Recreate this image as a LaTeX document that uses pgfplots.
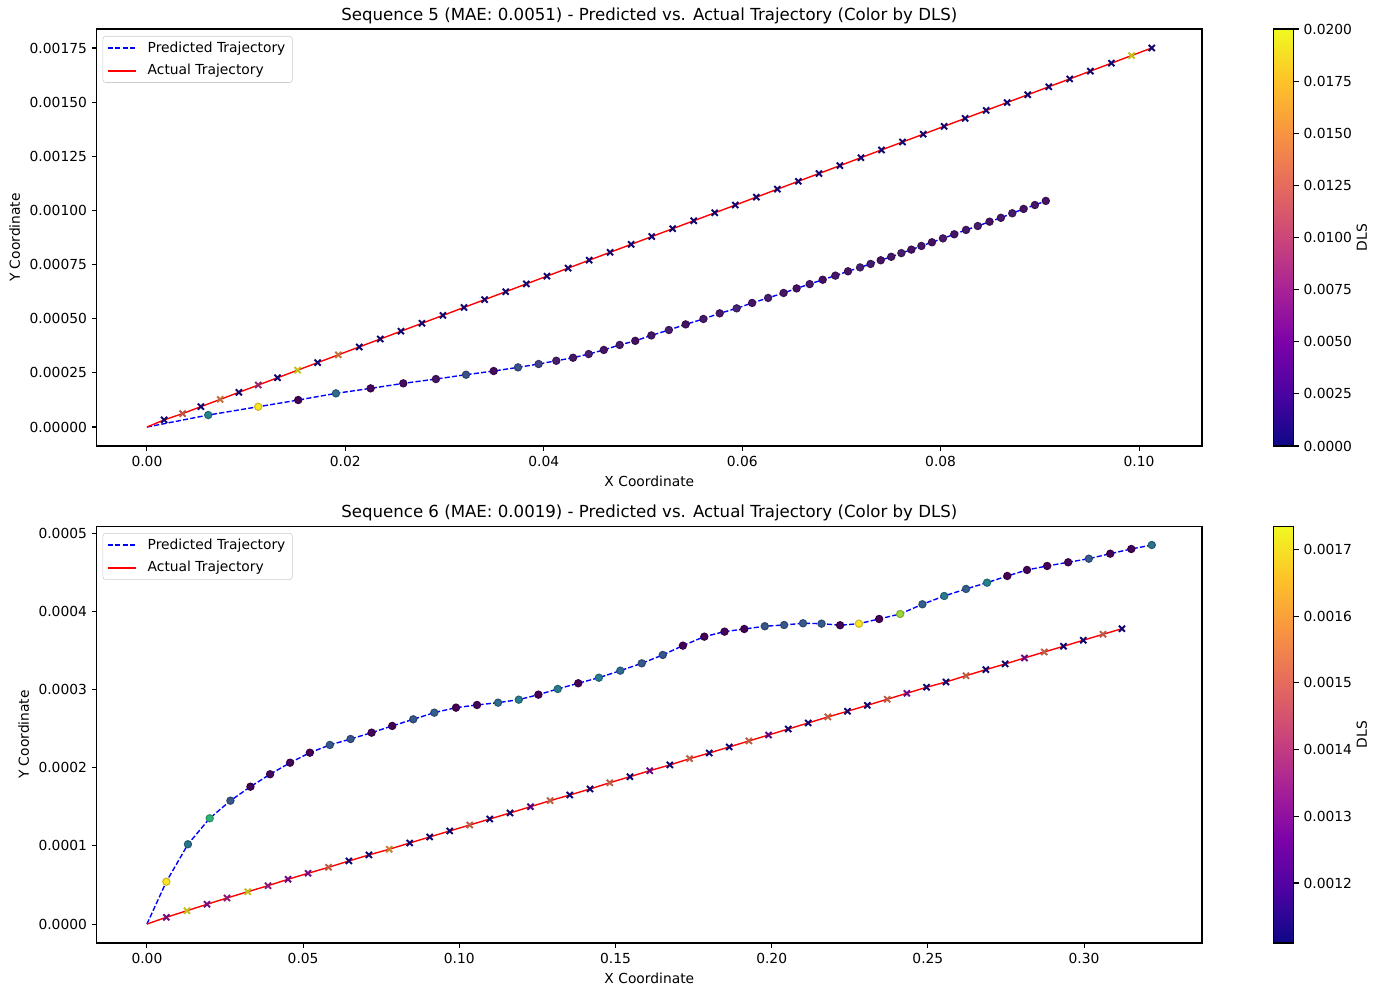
\documentclass[border=0pt]{standalone}
\usepackage{fontspec}
\setmainfont{DejaVu Sans}
\usepackage{pgfplots}
\usepackage{pgfplotstable}
\pgfplotsset{compat=1.18}

\pgfplotsset{
  colormap={viridiscm}{rgb255=(68,1,84) rgb255=(72,40,120) rgb255=(62,74,137) rgb255=(49,104,142) rgb255=(38,130,142) rgb255=(31,158,137) rgb255=(53,183,121) rgb255=(110,206,88) rgb255=(181,222,43) rgb255=(253,231,37)},
  colormap={plasmacm}{rgb255=(13,8,135) rgb255=(75,3,161) rgb255=(125,3,168) rgb255=(168,34,150) rgb255=(203,70,121) rgb255=(229,107,93) rgb255=(248,148,65) rgb255=(253,195,40) rgb255=(240,249,33)},
}

% Sequence 5: x, y, colour value
\pgfplotstableread{
x y c
0 0 0
0.00618 0.0000554 0.0090
0.01122 0.0000937 0.0200
0.01525 0.0001247 0.0000
0.01905 0.0001555 0.0070
0.02255 0.0001786 0.0004
0.02584 0.0002017 0.0006
0.02913 0.0002216 0.0010
0.03216 0.0002416 0.0050
0.03495 0.0002586 0.0006
0.03740 0.0002755 0.0050
0.03948 0.0002909 0.0040
0.04126 0.000306 0.0016
0.04295 0.000320 0.0012
0.04453 0.000337 0.0018
0.04605 0.000356 0.0010
0.04765 0.000379 0.0014
0.04922 0.000398 0.0008
0.05084 0.000423 0.0012
0.05261 0.000448 0.0016
0.05430 0.000474 0.0010
0.05609 0.000499 0.0014
0.05773 0.000525 0.0012
0.05944 0.000548 0.0020
0.06100 0.000573 0.0010
0.06261 0.000596 0.0016
0.06417 0.000619 0.0012
0.06548 0.000640 0.0010
0.06680 0.000660 0.0014
0.06811 0.000680 0.0008
0.06939 0.000699 0.0012
0.07066 0.000719 0.0010
0.07188 0.000737 0.0018
0.07294 0.000753 0.0014
0.07396 0.000770 0.0010
0.07502 0.000786 0.0012
0.07604 0.000803 0.0016
0.07705 0.000819 0.0010
0.07806 0.000836 0.0012
0.07912 0.000853 0.0008
0.08023 0.000871 0.0014
0.08137 0.000890 0.0010
0.08256 0.000910 0.0012
0.08374 0.000928 0.0016
0.08493 0.000948 0.0010
0.08607 0.000966 0.0012
0.08722 0.000987 0.0014
0.08836 0.001007 0.0010
0.08950 0.001025 0.0012
0.09060 0.001044 0.0010
}\predA

\pgfplotstableread{
x y c
0 0 0
0.00174 0.0000330 0.0004
0.00360 0.0000622 0.0125
0.00544 0.0000940 0.0004
0.00739 0.0001277 0.0145
0.00927 0.0001602 0.0004
0.01122 0.0001939 0.0085
0.01317 0.0002276 0.0004
0.01519 0.0002625 0.0195
0.01721 0.0002974 0.0004
0.01929 0.0003333 0.0145
0.02140 0.0003698 0.0004
0.02352 0.0004064 0.0004
0.02560 0.0004424 0.0004
0.02772 0.0004790 0.0004
0.02984 0.0005156 0.0004
0.03196 0.0005523 0.0004
0.03404 0.0005882 0.0004
0.03616 0.0006248 0.0004
0.03824 0.0006608 0.0004
0.04032 0.0006967 0.0004
0.04245 0.0007335 0.0004
0.04457 0.0007702 0.0004
0.04668 0.0008066 0.0004
0.04880 0.0008433 0.0004
0.05088 0.0008792 0.0004
0.05299 0.0009157 0.0004
0.05511 0.0009523 0.0004
0.05723 0.0009889 0.0004
0.05930 0.0010247 0.0004
0.06142 0.0010613 0.0004
0.06354 0.0010980 0.0004
0.06566 0.0011346 0.0004
0.06773 0.0011704 0.0004
0.06985 0.0012070 0.0004
0.07197 0.0012436 0.0004
0.07404 0.0012794 0.0004
0.07616 0.0013160 0.0004
0.07824 0.0013520 0.0004
0.08035 0.0013884 0.0004
0.08247 0.0014251 0.0004
0.08459 0.0014617 0.0004
0.08670 0.0014982 0.0004
0.08878 0.0015341 0.0004
0.09090 0.0015708 0.0004
0.09301 0.0016072 0.0004
0.09509 0.0016432 0.0004
0.09721 0.0016798 0.0004
0.09924 0.0017149 0.0195
0.10128 0.0017501 0.0004
}\actA

% Sequence 6
\pgfplotstableread{
x y c
0 0 0.00111
0.00622 0.0000542 0.001735
0.01314 0.0001021 0.001348
0.02010 0.0001353 0.001516
0.02673 0.0001578 0.001279
0.03314 0.0001757 0.001110
0.03942 0.0001916 0.001123
0.04583 0.0002064 0.001116
0.05215 0.0002192 0.001110
0.05856 0.0002291 0.001285
0.06519 0.0002367 0.001273
0.07192 0.0002448 0.001116
0.07853 0.0002534 0.001110
0.08526 0.0002619 0.001279
0.09199 0.0002704 0.001298
0.09894 0.0002768 0.001110
0.10567 0.0002802 0.001116
0.11240 0.0002832 0.001329
0.11904 0.0002870 0.001373
0.12532 0.0002934 0.001110
0.13151 0.0003007 0.001373
0.13808 0.0003080 0.001110
0.14468 0.0003151 0.001373
0.15154 0.0003241 0.001329
0.15840 0.0003335 0.001279
0.16513 0.0003442 0.001279
0.17157 0.0003561 0.001110
0.17843 0.0003676 0.001110
0.18490 0.0003740 0.001116
0.19122 0.0003774 0.001110
0.19779 0.0003809 0.001279
0.20397 0.0003825 0.001279
0.21003 0.0003847 0.001285
0.21596 0.0003842 0.001285
0.22189 0.0003822 0.001110
0.22792 0.0003842 0.001735
0.23439 0.0003902 0.001110
0.24112 0.0003966 0.001641
0.24824 0.0004090 0.001298
0.25522 0.0004196 0.001373
0.26221 0.0004286 0.001298
0.26894 0.0004366 0.001391
0.27542 0.0004452 0.001110
0.28173 0.0004529 0.001116
0.28817 0.0004580 0.001110
0.29490 0.0004627 0.001116
0.30151 0.0004673 0.001285
0.30837 0.0004737 0.001110
0.31510 0.0004797 0.001116
0.32167 0.0004848 0.001348
}\predB

\pgfplotstableread{
x y c
0 0 0.00112
0.00622 0.0000087 0.00130
0.01282 0.0000171 0.00172
0.01923 0.0000253 0.00130
0.02564 0.0000334 0.00135
0.03228 0.0000414 0.00172
0.03878 0.0000491 0.00135
0.04519 0.0000573 0.00128
0.05160 0.0000650 0.00130
0.05814 0.0000726 0.00152
0.06465 0.0000807 0.00112
0.07106 0.0000884 0.00112
0.07756 0.0000957 0.00160
0.08410 0.0001037 0.00112
0.09051 0.0001114 0.00112
0.09692 0.0001191 0.00112
0.10333 0.0001267 0.00152
0.10974 0.0001344 0.00112
0.11625 0.0001421 0.00112
0.12276 0.0001501 0.00122
0.12907 0.0001578 0.00152
0.13538 0.0001651 0.00112
0.14186 0.0001728 0.00112
0.14817 0.0001808 0.00152
0.15462 0.0001885 0.00112
0.16096 0.0001962 0.00128
0.16740 0.0002035 0.00112
0.17372 0.0002115 0.00152
0.18003 0.0002188 0.00112
0.18638 0.0002265 0.00112
0.19269 0.0002342 0.00152
0.19901 0.0002418 0.00125
0.20532 0.0002495 0.00112
0.21167 0.0002572 0.00112
0.21798 0.0002649 0.00152
0.22429 0.0002722 0.00112
0.23061 0.0002798 0.00112
0.23696 0.0002875 0.00152
0.24327 0.0002952 0.00128
0.24958 0.0003029 0.00112
0.25577 0.0003096 0.00112
0.26221 0.0003177 0.00152
0.26856 0.0003254 0.00112
0.27474 0.0003327 0.00112
0.28093 0.0003403 0.00128
0.28724 0.0003480 0.00152
0.29343 0.0003553 0.00112
0.29974 0.0003630 0.00112
0.30606 0.0003706 0.00152
0.31212 0.0003778 0.00112
}\actB

\pgfplotsset{
  trajaxis/.style={
    scale only axis, width=795.8bp, height=300.2bp,
    axis line style={line width=0.8bp},
    tick align=outside, tick pos=left,
    major tick length=3.5bp,
    every tick/.append style={line width=0.8bp, black},
    scaled ticks=false,
    /pgf/number format/assume math mode=true,
    xticklabel style={/pgf/number format/fixed, /pgf/number format/fixed zerofill, /pgf/number format/precision=2},
    xlabel={X Coordinate}, ylabel={Y Coordinate},
    title style={font=\fontsize{12}{14.4}\selectfont, yshift=-6bp},
    legend cell align=left,
    legend style={at={(0,1)}, anchor=north west, xshift=4.3bp, yshift=-5bp,
      draw=black!20, rounded corners=2bp, font=\fontsize{10}{12}\selectfont,
      inner xsep=3bp, inner ysep=2bp, row sep=3.2bp, column sep=6bp},
    legend image code/.code={\draw[##1, line width=1.25bp] (0bp,0bp) -- (20bp,0bp);},
    colormap name=plasmacm,
    colorbar,
    colorbar style={
      at={(parent axis.north east)}, anchor=north west, xshift=43.2bp,
      scale only axis, width=14.4bp, height=300.2bp,
      axis line style={line width=0.8bp},
      tick align=outside, major tick length=3.5bp, ytick pos=right,
      every tick/.append style={line width=0.8bp, black},
      scaled y ticks=false,
      /pgf/number format/assume math mode=true,
      yticklabel style={/pgf/number format/fixed, /pgf/number format/fixed zerofill, /pgf/number format/precision=4},
      ylabel={DLS}, ylabel shift=-3.6bp,
    },
  },
  predline/.style={color=blue, line width=1bp, dash pattern=on 3.7bp off 1.6bp},
  actline/.style={color=red, line width=1bp},
  predpts/.style={scatter, only marks, mark=*, mark size=2.6bp, line width=0.8bp,
    colormap name=viridiscm, point meta=explicit, forget plot, skip coords between index={0}{1}},
  actpts/.style={scatter, only marks, mark=x, mark size=3.1bp, line width=1.4bp,
    point meta=explicit, forget plot, skip coords between index={0}{1}},
}

\begin{document}
\begin{tikzpicture}
\path[use as bounding box] (-69.6bp,-388.8bp) rectangle (926.1bp,321.1bp);

\begin{axis}[trajaxis, at={(0,0)}, anchor=south west,
    title={Sequence 5 (MAE: 0.0051) - Predicted vs. Actual Trajectory (Color by DLS)},
    xmin=-0.005064, xmax=0.106344, ymin=-0.0000875, ymax=0.0018375,
    xtick={0,0.02,0.04,0.06,0.08,0.10},
    ytick={0,0.00025,0.0005,0.00075,0.001,0.00125,0.0015,0.00175},
    yticklabel style={/pgf/number format/fixed, /pgf/number format/fixed zerofill, /pgf/number format/precision=5},
    point meta min=0, point meta max=0.02,
    colorbar style={ytick={0,0.0025,0.005,0.0075,0.01,0.0125,0.015,0.0175,0.02}},
  ]
  \addlegendimage{predline}
  \addlegendentry{Predicted Trajectory}
  \addlegendimage{actline}
  \addlegendentry{Actual Trajectory}
  \addplot[predline, forget plot] table[x=x, y=y] {\predA};
  \addplot[actline, forget plot] table[x=x, y=y] {\actA};
  \addplot[predpts] table[x=x, y=y, meta=c] {\predA};
  \addplot[actpts] table[x=x, y=y, meta=c] {\actA};
\end{axis}

\begin{axis}[trajaxis, at={(0,-357.84bp)}, anchor=south west,
    title={Sequence 6 (MAE: 0.0019) - Predicted vs. Actual Trajectory (Color by DLS)},
    xmin=-0.016084, xmax=0.337754, ymin=-0.00002424, ymax=0.00050904,
    xtick={0,0.05,0.10,0.15,0.20,0.25,0.30},
    ytick={0,0.0001,0.0002,0.0003,0.0004,0.0005},
    yticklabel style={/pgf/number format/fixed, /pgf/number format/fixed zerofill, /pgf/number format/precision=4},
    point meta min=0.00111, point meta max=0.001735,
    colorbar style={ytick={0.0012,0.0013,0.0014,0.0015,0.0016,0.0017}},
  ]
  \addlegendimage{predline}
  \addlegendentry{Predicted Trajectory}
  \addlegendimage{actline}
  \addlegendentry{Actual Trajectory}
  \addplot[predline, forget plot] table[x=x, y=y] {\predB};
  \addplot[actline, forget plot] table[x=x, y=y] {\actB};
  \addplot[predpts] table[x=x, y=y, meta=c] {\predB};
  \addplot[actpts] table[x=x, y=y, meta=c] {\actB};
\end{axis}
\end{tikzpicture}
\end{document}
